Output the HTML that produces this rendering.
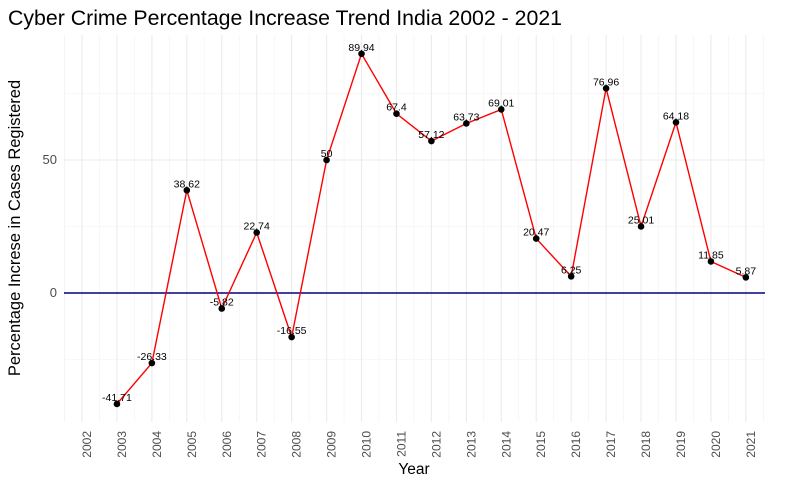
<!DOCTYPE html>
<html><head><meta charset="utf-8"><style>
body{margin:0;background:#fff;font-family:"Liberation Sans",sans-serif}
</style></head><body>
<svg id="chart" width="787" height="486" xmlns="http://www.w3.org/2000/svg">
<text x="8" y="25" font-size="21.3" fill="#000">Cyber Crime Percentage Increase Trend India 2002 - 2021</text>
<g id="grid"></g><g id="axes"></g><g id="series"></g>
<text x="414" y="474" font-size="15.5" text-anchor="middle">Year</text>
<text transform="translate(20,228) rotate(-90)" font-size="16.5" text-anchor="middle">Percentage Increse in Cases Registered</text>
</svg>
<script>
const years=[2002,2003,2004,2005,2006,2007,2008,2009,2010,2011,2012,2013,2014,2015,2016,2017,2018,2019,2020,2021];
const pts_years=[2003,2004,2005,2006,2007,2008,2009,2010,2011,2012,2013,2014,2015,2016,2017,2018,2019,2020,2021];
const values=[-41.71,-26.33,38.62,-5.82,22.74,-16.55,50,89.94,67.4,57.12,63.73,69.01,20.47,6.25,76.96,25.01,64.18,11.85,5.87];
const yTicks=[0,50];
const yMinor=[-25,25,75];
const NS="http://www.w3.org/2000/svg";
const L=64,R=765,T=35,B=422;
const x=y=>82+(y-2002)*34.94;
const yv=v=>293-v*2.66;
function mk(tag,attrs,parent){const e=document.createElementNS(NS,tag);for(const k in attrs)e.setAttribute(k,attrs[k]);document.getElementById(parent).appendChild(e);return e;}
for(let i=-1;i<years.length;i++){const xm=x(2002.5+i);if(xm>L&&xm<R){const l=mk('line',{x1:xm,x2:xm,y1:T,y2:B,stroke:'#f2f2f2','stroke-width':0.6},'grid');}}
mk('line',{x1:x(2001.5),x2:x(2001.5),y1:T,y2:B,stroke:'#f2f2f2','stroke-width':0.6},'grid');
yMinor.forEach(v=>{const l=mk('line',{x1:L,x2:R,y1:yv(v),y2:yv(v),stroke:'#f2f2f2','stroke-width':0.6},'grid');});
years.forEach(yr=>{const l=mk('line',{x1:x(yr),x2:x(yr),y1:T,y2:B,stroke:'#ebebeb','stroke-width':1.1},'grid');
const t=mk('text',{transform:`translate(${x(yr)+9},${431}) rotate(-90)`,'font-size':12,fill:'#4d4d4d','text-anchor':'end'},'axes');t.textContent=yr;});
yTicks.forEach(v=>{const l=mk('line',{x1:L,x2:R,y1:yv(v),y2:yv(v),stroke:'#ebebeb','stroke-width':1.1},'grid');
const t=mk('text',{x:57,y:yv(v)+4,'font-size':13,fill:'#4d4d4d','text-anchor':'end'},'axes');t.textContent=v;});
const z=mk('line',{x1:L,x2:R,y1:yv(0),y2:yv(0),stroke:'#000080','stroke-width':1.5},'series');

const p=mk('polyline',{points:pts_years.map((yr,i)=>x(yr)+','+yv(values[i])).join(' '),fill:'none',stroke:'#ff0000','stroke-width':1.4},'series');

pts_years.forEach((yr,i)=>{const c=mk('circle',{cx:x(yr),cy:yv(values[i]),r:3.3,fill:'#000'},'series');

const t=mk('text',{x:x(yr),y:yv(values[i])-3,'font-size':10.5,'text-anchor':'middle',fill:'#000'},'series');t.textContent=values[i];
});
</script>
</body></html>
